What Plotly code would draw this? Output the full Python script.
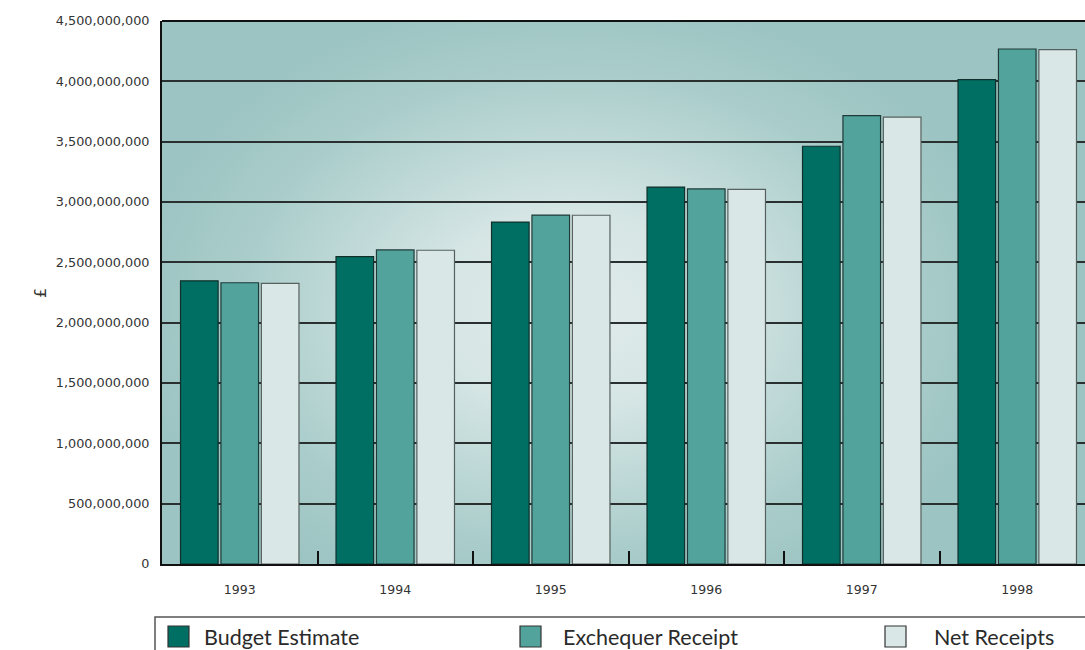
import base64
import plotly.graph_objects as go

# ---- data ----
years = ["1993", "1994", "1995", "1996", "1997", "1998"]
budget_estimate = [2.347e9, 2.547e9, 2.834e9, 3.124e9, 3.462e9, 4.014e9]
exchequer_receipt = [2.331e9, 2.603e9, 2.892e9, 3.108e9, 3.715e9, 4.268e9]
net_receipts = [2.326e9, 2.600e9, 2.890e9, 3.105e9, 3.704e9, 4.262e9]

series_names = ["Budget Estimate", "Exchequer Receipt", "Net Receipts"]
series_values = [budget_estimate, exchequer_receipt, net_receipts]
y_ticks = [i * 5e8 for i in range(10)]

# ---- style ----
W, H = 1085, 650
M_L, M_R, M_T, M_B = 162, 0, 21, 86
PW, PH = W - M_L - M_R, H - M_T - M_B
CAT_PX = 155.5  # pixel width of one category band

fills = ["#006f63", "#52a39c", "#d9e7e6"]
outlines = ["#10302c", "#1f3b38", "#56615f"]

# radial shading for the plotting area
svg = f"""<svg xmlns='http://www.w3.org/2000/svg' width='{PW}' height='{PH}' viewBox='0 0 {PW} {PH}' preserveAspectRatio='none'>
<defs><radialGradient id='g' gradientUnits='userSpaceOnUse' cx='410' cy='290' r='440'
 gradientTransform='translate(410 290) scale(1 0.72) translate(-410 -290)'>
<stop offset='0' stop-color='#e0ebea'/>
<stop offset='0.3' stop-color='#d6e6e5'/>
<stop offset='0.75' stop-color='#aacdcb'/>
<stop offset='1' stop-color='#9cc4c2'/>
</radialGradient></defs>
<rect width='{PW}' height='{PH}' fill='#9cc4c2'/>
<rect width='{PW}' height='{PH}' fill='url(#g)'/>
</svg>"""
bg_uri = "data:image/svg+xml;base64," + base64.b64encode(svg.encode()).decode()

fig = go.Figure()
for name, vals, fc, lc in zip(series_names, series_values, fills, outlines):
    fig.add_trace(go.Bar(
        x=years, y=vals, name=name,
        marker=dict(color=fc, line=dict(color=lc, width=1.2)),
        showlegend=False,
    ))

shapes = [
    # top border of plotting area
    dict(type="line", xref="paper", yref="paper", x0=0, x1=1, y0=1, y1=1,
         line=dict(color="#111", width=2)),
]
annotations = [
    dict(text="£", xref="paper", yref="paper", x=(40 - M_L) / PW, y=(M_T + PH - 293) / PH,
         textangle=-90, showarrow=False, font=dict(size=16, color="#333"),
         xanchor="center", yanchor="middle"),
]

# legend strip below the axis
def px_x(px):
    return (px - M_L) / PW

def px_y(py):
    return (M_T + PH - py) / PH

shapes.append(dict(type="rect", xref="paper", yref="paper",
                   x0=px_x(155), x1=px_x(1110), y0=px_y(617), y1=px_y(680),
                   line=dict(color="#555", width=1.5), fillcolor="rgba(0,0,0,0)"))
swatch_x = [168, 520, 885]
text_x = [202, 561, 932]
for name, fc, lc, sx, tx in zip(series_names, fills, outlines, swatch_x, text_x):
    shapes.append(dict(type="rect", xref="paper", yref="paper",
                       x0=px_x(sx), x1=px_x(sx + 21), y0=px_y(626), y1=px_y(647),
                       line=dict(color="#333", width=1.2), fillcolor=fc))
    annotations.append(dict(text=name, xref="paper", yref="paper",
                            x=px_x(tx), y=px_y(637), xanchor="left", yanchor="middle",
                            showarrow=False,
                            font=dict(family="Lato, sans-serif", size=21.5, color="#2a2a2a")))

fig.update_layout(
    width=W, height=H,
    margin=dict(l=M_L, r=M_R, t=M_T, b=M_B),
    paper_bgcolor="white",
    plot_bgcolor="rgba(0,0,0,0)",
    barmode="group", bargap=0.22, bargroupgap=0.07,
    font=dict(family="DejaVu Sans, sans-serif", size=12, color="#333"),
    images=[dict(source=bg_uri, xref="paper", yref="paper", x=0, y=1,
                 sizex=1, sizey=1, xanchor="left", yanchor="top",
                 sizing="stretch", layer="below")],
    shapes=shapes,
    annotations=annotations,
    xaxis=dict(
        type="category",
        range=[-0.5, -0.5 + PW / CAT_PX],
        showgrid=False,
        showline=True, linecolor="#111", linewidth=2,
        ticks="inside", tickson="boundaries", ticklen=13, tickwidth=1.5, tickcolor="#111",
        ticklabelstandoff=13,
        tickfont=dict(size=12.5, color="#333"),
    ),
    yaxis=dict(
        range=[0, 4.5e9],
        tickvals=y_ticks, tickformat=",",
        showgrid=True, gridcolor="#2a2f2f", gridwidth=1.6,
        showline=True, linecolor="#111", linewidth=2,
        zeroline=False,
        ticks="outside", ticklen=8, tickcolor="rgba(0,0,0,0)",
        tickfont=dict(size=12.8, color="#333"),
    ),
)

fig.write_html("out.html")
